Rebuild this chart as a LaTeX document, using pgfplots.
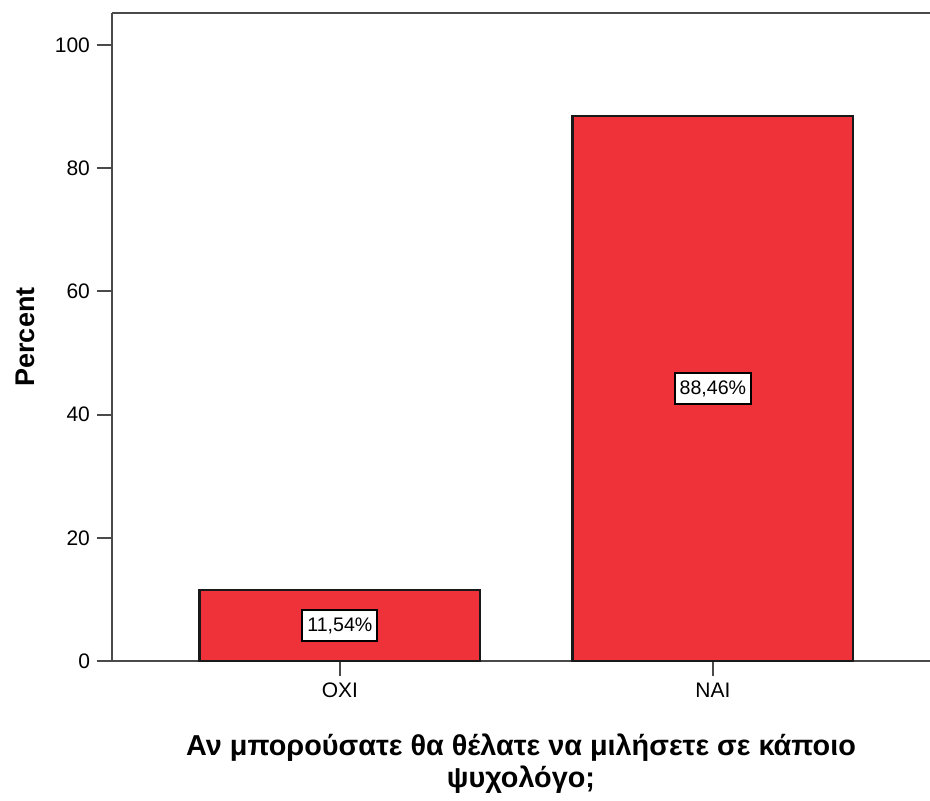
\documentclass[border=0pt]{standalone}
\usepackage{fontspec}
\setmainfont{Liberation Sans}
\usepackage{pgfplots}
\pgfplotsset{compat=1.18}
\definecolor{barred}{HTML}{EF3239}
\definecolor{axgray}{HTML}{4A4A4A}

\begin{document}
\begin{tikzpicture}
\begin{axis}[scale only axis, width=409pt, height=324pt,
  xmin=-0.611, xmax=1.582, ymin=0, ymax=105.2,
  xtick={0,1}, xticklabels={ΟΧΙ,ΝΑΙ}, ytick={0,20,...,100},
  axis x line*=bottom, axis y line*=left,
  axis line style={axgray, line width=1pt, -},
  tick style={axgray, line width=1pt}, tick align=outside, major tick length=7.5pt,
  tick label style={font=\fontsize{10.5}{12}\selectfont},
  /pgf/number format/assume math mode=true,
  ylabel={Percent},
  ylabel style={font=\bfseries\fontsize{13.5}{16}\selectfont, at={(axis description cs:0,0.5)}, anchor=center, yshift=43.5pt},
  xlabel={Αν μπορούσατε θα θέλατε να μιλήσετε σε κάποιο\\ψυχολόγο;},
  xlabel style={font=\bfseries\fontsize{14.4}{16}\selectfont, align=center, at={(axis description cs:0.5,0)}, anchor=north, yshift=-33pt},
  clip=false]
\addplot[ybar, bar width=0.753, fill=barred, draw=black!90, line width=1.1pt]
  coordinates {(0,11.54) (1,88.46)};
\node[draw=black, line width=1pt, fill=white, inner xsep=2.5pt, inner ysep=3.5pt, font=\fontsize{9.8}{11}\selectfont] at (axis cs:0,5.77) {11,54\%};
\node[draw=black, line width=1pt, fill=white, inner xsep=2.5pt, inner ysep=3.5pt, font=\fontsize{9.8}{11}\selectfont] at (axis cs:1,44.23) {88,46\%};
\draw[axgray, line width=1pt] (rel axis cs:0,1) -- (rel axis cs:1,1);
\coordinate (o) at (rel axis cs:0,0);
\end{axis}
\pgfresetboundingbox
\path ([shift={(-56pt,-69.5pt)}]o) rectangle ++(465pt,400pt);
\end{tikzpicture}
\end{document}
